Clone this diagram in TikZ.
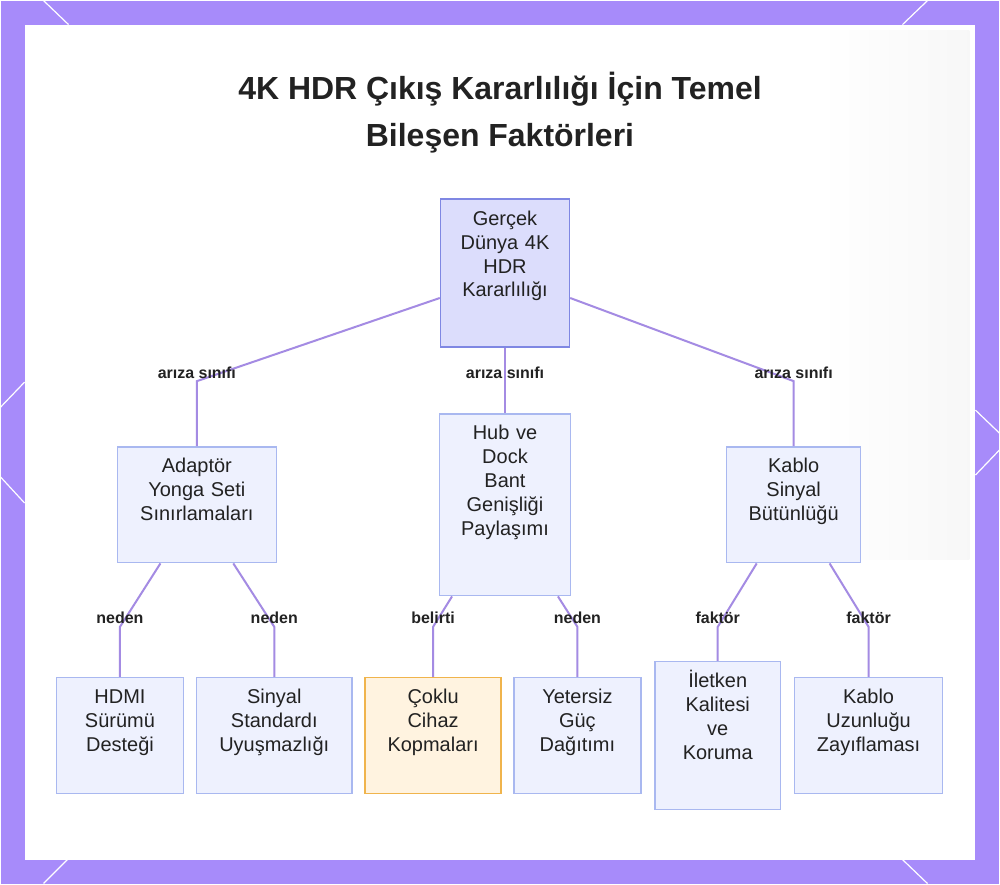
\documentclass[tikz,border=0pt]{standalone}
\usepackage{fontspec}
\usepackage{tikz}
\setmainfont{Liberation Sans}
\definecolor{framec}{HTML}{A78BFA}
\definecolor{linkc}{HTML}{A48BE3}
\definecolor{rootfill}{HTML}{DCDDFC}
\definecolor{rootdraw}{HTML}{7F87E3}
\definecolor{leaffill}{HTML}{EEF1FE}
\definecolor{leafdraw}{HTML}{A9B8F0}
\definecolor{warnfill}{HTML}{FFF3E0}
\definecolor{warndraw}{HTML}{F0B44C}
\definecolor{textc}{HTML}{222222}

\begin{document}
\begin{tikzpicture}[x=1pt, y=-1pt,
  every node/.style = {text=textc},
  kutu/.style = {shape=rectangle, draw=leafdraw, fill=leaffill,
    line width=1.5pt, anchor=north, align=center,
    inner sep=4pt, text height=22pt,
    font=\fontsize{20}{24}\selectfont},
  kok/.style = {kutu, draw=rootdraw, fill=rootfill},
  uyari/.style = {kutu, draw=warndraw, fill=warnfill},
  link/.style = {draw=linkc, line width=2pt},
  lbl/.style = {anchor=base, yshift=3pt, inner sep=0pt,
    font=\fontsize{16}{18}\selectfont\bfseries},
 ]
 % frame and panel
 \fill[framec] (0,0) rectangle (1000,884);
 \fill[white] (24,24) rectangle (976,860);
 \shade[left color=white, right color=black!3] (820,30) rectangle (970,560);
 \foreach \a/\b/\c/\d in {43/0/68/24, 903/24/928/0, 0/407/24/382,
   0/477/24/503, 976/410/1000/433, 976/475/1000/450, 67/860/43/884,
   903/860/928/884}
   \draw[white, line width=1.2pt] (\a,\b) -- (\c,\d);

 \node[font=\fontsize{32}{47}\selectfont\bfseries, align=center] (title)
   at (500,112) {4K HDR Çıkış Kararlılığı İçin Temel\\Bileşen Faktörleri};

 % nodes
 \node[kok, text width=121pt, text depth=118pt] (root) at (505,198)
   {Gerçek\\Dünya 4K\\HDR\\Kararlılığı};
 \node[kutu, text width=151pt, text depth=86pt] (adapt) at (196.5,446)
   {Adaptör\\Yonga Seti\\Sınırlamaları};
 \node[kutu, text width=123pt, text depth=152pt] (hub) at (505,413)
   {Hub ve\\Dock\\Bant\\Genişliği\\Paylaşımı};
 \node[kutu, text width=126pt, text depth=86pt] (kablo) at (794,446)
   {Kablo\\Sinyal\\Bütünlüğü};
 \node[kutu, text width=119pt, text depth=86pt] (hdmi) at (119.5,677)
   {HDMI\\Sürümü\\Desteği};
 \node[kutu, text width=148pt, text depth=86pt] (sinyal) at (274,677)
   {Sinyal\\Standardı\\Uyuşmazlığı};
 \node[uyari, text width=128pt, text depth=86pt] (coklu) at (433,677)
   {Çoklu\\Cihaz\\Kopmaları};
 \node[kutu, text width=119pt, text depth=86pt] (guc) at (577.5,677)
   {Yetersiz\\Güç\\Dağıtımı};
 \node[kutu, text width=118pt, text depth=118pt] (iletken) at (718,661)
   {İletken\\Kalitesi\\ve\\Koruma};
 \node[kutu, text width=140pt, text depth=86pt] (uzun) at (869,677)
   {Kablo\\Uzunluğu\\Zayıflaması};

 % connectors
 \draw[link] ([yshift=-25pt]root.west) -- (adapt.north |- 0,381)
   node[lbl] {arıza sınıfı} -- (adapt.north);
 \draw[link] (root.south) -- (hub.north);
 \node[lbl] (hublbl) at (hub.north |- 0,381) {arıza sınıfı};
 \draw[link] ([yshift=-25pt]root.east) -- (kablo.north |- 0,381)
   node[lbl] {arıza sınıfı} -- (kablo.north);
 \draw[link] ([xshift=-36.5pt]adapt.south) -- (hdmi.north |- 0,627)
   node[lbl] {neden} -- (hdmi.north);
 \draw[link] ([xshift=36.5pt]adapt.south) -- (sinyal.north |- 0,627)
   node[lbl] {neden} -- (sinyal.north);
 \draw[link] ([xshift=-53pt]hub.south) -- (coklu.north |- 0,627)
   node[lbl] {belirti} -- (coklu.north);
 \draw[link] ([xshift=53pt]hub.south) -- (guc.north |- 0,627)
   node[lbl] {neden} -- (guc.north);
 \draw[link] ([xshift=-37pt]kablo.south) -- (iletken.north |- 0,627)
   node[lbl] {faktör} -- (iletken.north);
 \draw[link] ([xshift=36pt]kablo.south) -- (uzun.north |- 0,627)
   node[lbl] {faktör} -- (uzun.north);
\end{tikzpicture}
\end{document}
